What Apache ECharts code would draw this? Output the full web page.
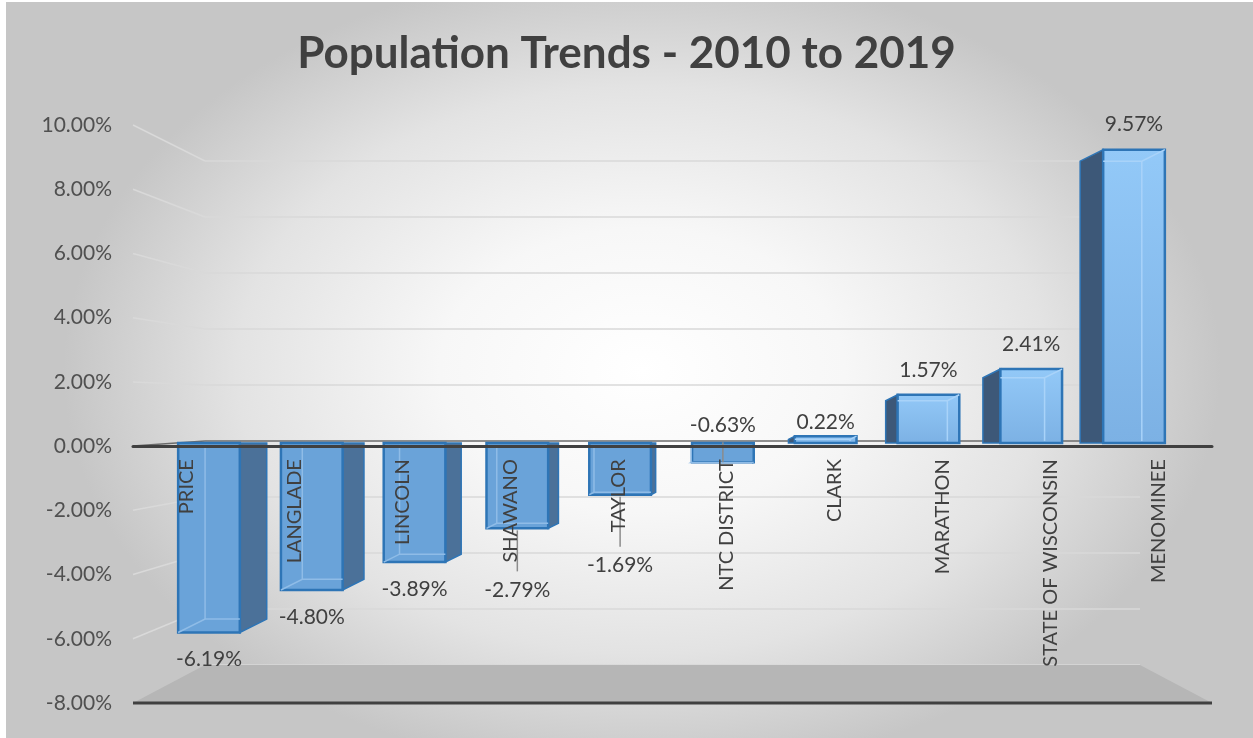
<!DOCTYPE html>
<html><head><meta charset="utf-8">
<script src="https://cdn.jsdelivr.net/npm/echarts@6/dist/echarts.min.js"></script>
<style>html,body{margin:0;padding:0;background:#fff}#c{width:1253px;height:738px}</style>
</head><body><div id="c"></div>
<script>
// ---- data ----
const categories = ['PRICE','LANGLADE','LINCOLN','SHAWANO','TAYLOR','NTC DISTRICT','CLARK','MARATHON','STATE OF WISCONSIN','MENOMINEE'];
const changePct = [-6.19,-4.80,-3.89,-2.79,-1.69,-0.63,0.22,1.57,2.41,9.57];
const yMin = -8, yMax = 10, yStep = 2;
// manual data-label nudges (px), as moved in the original chart
const labelNudge = [0,0,0,35,44,-64,11,0,0,0];

const fmt = v => v.toFixed(2) + '%';
const FONT = 'Lato, "Open Sans", sans-serif';
const chart = echarts.init(document.getElementById('c'), null, {renderer:'canvas'});

function renderBar(params, api){
  const i = api.value(0), v = api.value(1);
  const cs = params.coordSys;
  const top = api.coord([i, v]), base = api.coord([i, 0]);
  const bw = api.size([1, 0])[0] * 0.6;
  const cx = top[0], x1 = cx - bw/2, x2 = cx + bw/2, y0 = base[1], yv = top[1];
  const vp = cs.x + cs.width * 0.535;
  const dx = 0.054 * (vp - cx), dy = -0.5 * dx;
  const ch = [];
  const edge = '#2e75b6';
  if (v < 0) {
    ch.push({type:'polygon', shape:{points:[[x2,y0],[x2+dx,y0],[x2+dx,yv+dy],[x2,yv]]},
      style:{fill:'#4b7199', stroke:edge, lineWidth:1.5}});
    ch.push({type:'rect', shape:{x:x1, y:y0, width:bw, height:yv-y0},
      style:{fill:'#6aa3d9', stroke:edge, lineWidth:2.5}});
    ch.push({type:'polyline', shape:{points:[[x1,yv],[x1+dx,yv+dy],[x2,yv+dy]]},
      style:{fill:null, stroke:'#8fbce7', lineWidth:1.5}});
    ch.push({type:'line', shape:{x1:x1+dx, y1:y0+2, x2:x1+dx, y2:yv+dy},
      style:{stroke:'#8fbce7', lineWidth:1.5}});
  } else {
    ch.push({type:'polygon', shape:{points:[[x1,y0],[x1+dx,y0],[x1+dx,yv+dy],[x1,yv]]},
      style:{fill:'#3d5878', stroke:edge, lineWidth:1.5}});
    ch.push({type:'rect', shape:{x:x1, y:yv, width:bw, height:y0-yv},
      style:{fill:new echarts.graphic.LinearGradient(0,0,0,1,[{offset:0,color:'#93c9f8'},{offset:1,color:'#7cb1e4'}]),
        stroke:edge, lineWidth:2.5}});
    ch.push({type:'polyline', shape:{points:[[x1,yv+dy],[x2+dx,yv+dy],[x2,yv]]},
      style:{fill:null, stroke:'#a9d3f9', lineWidth:1.5}});
    ch.push({type:'line', shape:{x1:x2+dx, y1:yv+dy, x2:x2+dx, y2:y0-2},
      style:{stroke:'#a9d3f9', lineWidth:1.5}});
  }
  // data label
  const nudge = labelNudge[i] || 0;
  const ly = (v < 0 ? yv + 27 : yv - 25) + nudge;
  ch.push({type:'text', style:{text:fmt(v), x:cx, y:ly, fill:'#404040', font:'21px ' + FONT,
    align:'center', verticalAlign:'middle'}, z2:20});
  if (Math.abs(nudge) > 20) {
    const ya = ly > yv ? yv + 2 : ly + 17;
    const yb = ly > yv ? ly - 19 : yv;
    ch.push({type:'line', shape:{x1:cx, y1:ya, x2:cx, y2:yb}, style:{stroke:'#8c8c8c', lineWidth:1.5}, z2:19});
  }
  return {type:'group', children:ch};
}

const splitColors = [];
for (let v = yMin; v <= yMax; v += yStep) splitColors.push(v === 0 ? '#6b6b6b' : '#d9d9d9');

const gridBase = {containLabel:false, outerBoundsMode:'none'};
chart.setOption({
  animation:false,
  title:{text:'Population Trends - 2010 to 2019', left:'center', top:27,
    textStyle:{fontFamily:FONT, fontWeight:'bold', fontSize:44, color:'#404040'}},
  graphic:[{id:'bg', type:'rect', x:6, y:2, scaleY:0.7, z:-100, silent:true,
    shape:{x:0, y:0, width:1247, height:1052},
    style:{fill:{type:'radial', x:0.51, y:0.5, r:0.55, colorStops:[
      {offset:0, color:'#ffffff'},{offset:0.35, color:'#f7f7f7'},{offset:0.7, color:'#e3e3e3'},{offset:1, color:'#c6c6c6'}]}}}],
  grid:[
    Object.assign({left:133, right:41, top:125, bottom:35}, gridBase),      // front plane
    Object.assign({left:157.6, right:67.6, top:136.5, bottom:50}, gridBase), // bar plane
    Object.assign({left:205, right:113, top:161, bottom:73}, gridBase)       // back wall
  ],
  xAxis:[
    {type:'category', gridIndex:0, data:categories, z:10,
      axisLine:{show:true, onZero:true, lineStyle:{color:'#404040', width:3}},
      axisTick:{show:false}, axisLabel:{show:false}},
    {type:'category', gridIndex:1, data:categories, show:false},
    {type:'category', gridIndex:2, data:categories, show:false}
  ],
  yAxis:[
    {type:'value', gridIndex:0, min:yMin, max:yMax, interval:yStep,
      axisLine:{show:false}, axisTick:{show:false}, splitLine:{show:false},
      axisLabel:{formatter:fmt, margin:21, fontSize:21, fontFamily:FONT, color:'#505050'}},
    {type:'value', gridIndex:1, min:yMin, max:yMax, interval:yStep, show:false, splitLine:{show:false}},
    {type:'value', gridIndex:2, min:yMin, max:yMax, interval:yStep,
      axisLine:{show:false}, axisTick:{show:false}, axisLabel:{show:false},
      splitLine:{show:true, lineStyle:{color:splitColors, width:1.5}}}
  ],
  series:[{
    type:'custom', name:'Change', xAxisIndex:1, yAxisIndex:1, z:3, clip:false,
    renderItem:renderBar,
    data:changePct.map((v,i)=>[i,v])
  }]
});

// perspective connectors (floor, front floor edge & gridline diagonals), positioned via the axes' scales
function rectOf(idx){
  const m = chart.getModel().getComponent('grid', idx);
  return m.coordinateSystem.getRect();
}
const H = chart.getHeight();
const A = rectOf(0), C = rectOf(2);
const yA = v => chart.convertToPixel({yAxisIndex:0}, v);
const yC = v => chart.convertToPixel({yAxisIndex:2}, v);
const extra = [];
extra.push({id:'floor', type:'polygon', z:1, silent:true,
  shape:{points:[[A.x, yA(yMin)],[A.x+A.width, yA(yMin)],[C.x+C.width, yC(yMin)],[C.x, yC(yMin)]]},
  style:{fill:'#b6b6b6'}});
extra.push({id:'floorEdge', type:'line', z:5, silent:true,
  shape:{x1:A.x, y1:yA(yMin), x2:A.x+A.width, y2:yA(yMin)},
  style:{stroke:'#404040', lineWidth:3}});
for (let v = yMin + yStep; v <= yMax; v += yStep) {
  extra.push({id:'diag'+v, type:'line', z:1, silent:true,
    shape:{x1:A.x, y1:yA(v), x2:C.x, y2:yC(v)},
    style:{stroke: v === 0 ? '#6b6b6b' : '#d9d9d9', lineWidth:1.5}});
}
// category label axis: a grid sharing the front plane, whose bottom edge sits on the front zero line
chart.setOption({
  graphic:extra,
  grid:[{},{},{}, Object.assign({left:A.x, width:A.width, top:A.y, bottom:H - yA(0)}, gridBase)],
  xAxis:[{},{},{}, {type:'category', gridIndex:3, data:categories, z:10,
    axisLine:{show:false}, axisTick:{show:false},
    axisLabel:{rotate:90, interval:0, margin:13, fontSize:20, fontFamily:FONT, color:'#404040'}}],
  yAxis:[{},{},{}, {type:'value', gridIndex:3, show:false, splitLine:{show:false}}]
});
</script></body></html>
